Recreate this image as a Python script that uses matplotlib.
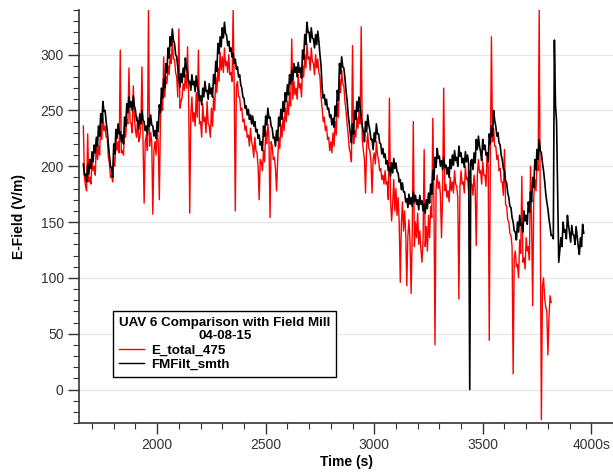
import numpy as np
import matplotlib.pyplot as plt
from matplotlib.ticker import MultipleLocator

# ================================
# Data
# each 10 s bin has an upper and a lower reading of the noisy trace
# ================================
sample_step = 10

# FMFilt_smth, field mill, 1660 s .. 3960 s
fm_start = 1660
fm_upper = [
    202, 193, 201, 206, 213, 219, 226, 236, 247, 258,
    250, 232, 210, 198, 220, 233, 238, 231, 228, 244,
    256, 262, 258, 263, 250, 241, 247, 250, 240, 236,
    243, 246, 236, 232, 240, 255, 270, 278, 292, 306,
    316, 323, 310, 298, 279, 283, 288, 297, 284, 276,
    282, 276, 281, 268, 263, 270, 276, 268, 274, 270,
    282, 294, 310, 316, 324, 329, 317, 312, 306, 301,
    296, 289, 282, 270, 261, 254, 251, 246, 245, 240,
    233, 228, 222, 236, 245, 252, 244, 234, 226, 232,
    244, 251, 258, 266, 273, 282, 286, 292, 289, 293,
    288, 304, 318, 329, 320, 324, 314, 318, 321, 300,
    270, 264, 260, 252, 246, 243, 254, 268, 292, 298,
    288, 268, 246, 229, 238, 250, 258, 262, 244, 231,
    240, 246, 232, 224, 230, 238, 229, 220, 216, 211,
    205, 199, 203, 207, 203, 194, 188, 185, 177, 171,
    175, 172, 177, 174, 170, 174, 169, 166, 170, 176,
    184, 196, 208, 216, 209, 205, 208, 201, 199, 206,
    210, 214, 208, 218, 212, 207, 213, 210, 0, 206,
    212, 224, 227, 213, 224, 219, 212, 229, 236, 250,
    236, 230, 219, 206, 196, 185, 172, 163, 150, 141,
    150, 156, 149, 160, 156, 168, 177, 190, 206, 215,
    224, 212, 196, 176, 162, 146, 138, 313, 240, 114,
    136, 150, 143, 156, 140, 147, 138, 146, 128, 136, 148,
]
fm_lower = [
    192, 186, 193, 198, 204, 212, 218, 227, 239, 249,
    240, 220, 200, 190, 211, 225, 229, 222, 220, 236,
    248, 253, 250, 254, 241, 233, 238, 241, 232, 228,
    236, 237, 227, 225, 231, 248, 261, 270, 284, 297,
    308, 313, 300, 288, 271, 275, 280, 288, 275, 268,
    273, 267, 272, 259, 255, 262, 267, 260, 265, 262,
    274, 285, 301, 307, 315, 319, 308, 303, 298, 292,
    287, 280, 273, 262, 252, 246, 242, 238, 236, 231,
    225, 219, 214, 227, 237, 243, 236, 225, 218, 223,
    236, 242, 249, 258, 264, 274, 277, 284, 280, 284,
    279, 296, 309, 320, 311, 315, 306, 309, 312, 290,
    261, 255, 251, 244, 237, 235, 245, 259, 283, 289,
    279, 259, 238, 221, 229, 242, 249, 253, 236, 222,
    231, 237, 224, 215, 222, 229, 221, 211, 208, 202,
    196, 191, 194, 198, 195, 186, 179, 177, 168, 163,
    166, 164, 168, 166, 161, 166, 160, 158, 162, 167,
    175, 188, 199, 207, 200, 197, 199, 193, 190, 198,
    201, 205, 200, 209, 203, 199, 204, 202, 205, 197,
    203, 215, 218, 205, 215, 210, 204, 220, 227, 241,
    227, 221, 210, 198, 187, 176, 164, 154, 142, 134,
    141, 147, 141, 151, 148, 159, 168, 181, 197, 206,
    214, 203, 187, 168, 153, 138, 135, 255, 180, 125,
    128, 141, 135, 147, 132, 139, 130, 137, 121, 128, 140,
]

# E_total_475, UAV sensor, 1660 s .. 3810 s
uav_start = 1660
uav_upper = [
    236, 182, 229, 190, 208, 200, 224, 218, 240, 248,
    236, 226, 203, 192, 208, 226, 222, 304, 214, 236,
    242, 288, 238, 272, 232, 244, 226, 289, 167, 228,
    340, 230, 157, 222, 236, 170, 262, 298, 280, 290,
    300, 312, 296, 280, 323, 258, 274, 282, 307, 158,
    262, 248, 266, 304, 240, 256, 244, 258, 236, 252,
    262, 280, 288, 302, 298, 306, 294, 300, 284, 340,
    160, 276, 262, 252, 242, 236, 228, 234, 218, 226,
    212, 170, 204, 214, 232, 238, 154, 218, 208, 178,
    226, 238, 244, 252, 258, 266, 314, 276, 270, 282,
    274, 290, 300, 310, 298, 306, 292, 300, 296, 280,
    252, 244, 236, 226, 222, 230, 240, 256, 278, 286,
    272, 250, 228, 212, 308, 232, 244, 250, 325, 214,
    176, 230, 214, 176, 212, 222, 206, 198, 192, 196,
    186, 261, 151, 188, 180, 172, 96, 168, 160, 93,
    152, 86, 240, 150, 158, 142, 114, 215, 146, 156,
    164, 243, 40, 192, 186, 136, 270, 184, 178, 190,
    186, 196, 182, 81, 196, 186, 200, 190, 196, 184,
    192, 129, 206, 196, 204, 192, 212, 44, 316, 234,
    218, 210, 198, 186, 215, 164, 150, 138, 14, 124,
    112, 134, 191, 118, 136, 128, 200, 75, 188, 204,
    340, -27, 100, 74, 31, 84,
]
uav_lower = [
    190, 178, 186, 184, 196, 192, 206, 210, 224, 232,
    226, 208, 190, 186, 200, 214, 212, 212, 210, 226,
    238, 240, 230, 244, 226, 222, 236, 220, 222, 214,
    218, 222, 214, 210, 220, 240, 250, 262, 274, 282,
    292, 296, 284, 262, 252, 262, 268, 270, 262, 246,
    240, 236, 244, 238, 226, 240, 230, 238, 226, 236,
    250, 266, 276, 286, 284, 290, 284, 282, 276, 270,
    272, 262, 250, 240, 232, 226, 218, 222, 208, 214,
    200, 206, 196, 204, 220, 226, 222, 206, 198, 204,
    216, 226, 232, 240, 246, 254, 260, 264, 260, 270,
    262, 280, 288, 296, 286, 294, 282, 288, 284, 262,
    240, 232, 224, 214, 212, 218, 228, 244, 266, 274,
    258, 238, 216, 204, 220, 226, 234, 238, 224, 206,
    218, 216, 204, 206, 202, 210, 196, 188, 184, 184,
    170, 172, 166, 160, 156, 150, 148, 142, 140, 138,
    132, 138, 128, 136, 130, 126, 134, 128, 124, 136,
    154, 168, 180, 180, 174, 176, 178, 172, 168, 178,
    176, 184, 172, 182, 184, 176, 188, 178, 184, 174,
    180, 192, 194, 184, 192, 182, 200, 210, 222, 218,
    206, 196, 186, 174, 166, 152, 140, 128, 118, 110,
    100, 122, 114, 108, 124, 116, 150, 172, 178, 196,
    160, 92, 82, 70, 64, 78,
]

xtick_vals = [2000, 2500, 3000, 3500, 4000]
xtick_labels = ["2000", "2500", "3000", "3500", "4000s"]
ytick_vals = [0, 50, 100, 150, 200, 250, 300]


def zigzag(start, upper, lower):
    # upper reading at the bin start, lower reading half a bin later
    n = len(upper)
    t = np.empty(2 * n)
    v = np.empty(2 * n)
    t[0::2] = start + sample_step * np.arange(n)
    t[1::2] = t[0::2] + sample_step / 2
    v[0::2] = upper
    v[1::2] = lower
    return t, v


uav_t, uav_v = zigzag(uav_start, uav_upper, uav_lower)
fm_t, fm_v = zigzag(fm_start, fm_upper, fm_lower)

# ================================
# Plot
# ================================
plt.rcParams["font.family"] = ["Liberation Sans", "DejaVu Sans"]

fig = plt.figure(figsize=(6.13, 4.75), dpi=100)
ax = fig.add_axes([0.1289, 0.1095, 0.8711, 0.8695])

ax.plot(uav_t, uav_v, color="red", lw=1.0, label="E_total_475")
ax.plot(fm_t, fm_v, color="black", lw=1.2, label="FMFilt_smth")

ax.set_xlim(1640, 4100)
ax.set_ylim(-30, 340)

ax.set_xticks(xtick_vals)
ax.set_xticklabels(xtick_labels)
ax.set_yticks(ytick_vals)
ax.xaxis.set_minor_locator(MultipleLocator(100))
ax.yaxis.set_minor_locator(MultipleLocator(10))

ax.grid(axis="y", color="#e6e6e6", lw=0.8)
ax.set_axisbelow(True)

for side in ["top", "right"]:
    ax.spines[side].set_visible(False)
for side in ["left", "bottom"]:
    ax.spines[side].set_color("#333333")
    ax.spines[side].set_linewidth(1.2)

ax.tick_params(which="major", length=8, width=1.0, color="#333333",
               labelsize=10, labelcolor="#333333", pad=3)
ax.tick_params(which="minor", length=4, width=0.8, color="#333333")

ax.set_xlabel("Time (s)", fontsize=10, fontweight="bold", labelpad=2)
ax.set_ylabel("E-Field (V/m)", fontsize=10, fontweight="bold", labelpad=10)

leg = ax.legend(
    title="UAV 6 Comparison with Field Mill\n04-08-15",
    loc="lower left", bbox_to_anchor=(0.0637, 0.111), borderaxespad=0,
    prop={"weight": "bold", "size": 9.6},
    title_fontproperties={"weight": "bold", "size": 9.6},
    handlelength=1.9, handletextpad=0.5, labelspacing=0.15,
    borderpad=0.45, fancybox=False, framealpha=1, edgecolor="black",
)
leg.get_frame().set_linewidth(1.0)
for line in leg.get_lines():
    line.set_linewidth(1.0)
leg._legend_box.align = "left"
leg.get_title().set_multialignment("center")

fig.savefig("out.png", dpi=100)
